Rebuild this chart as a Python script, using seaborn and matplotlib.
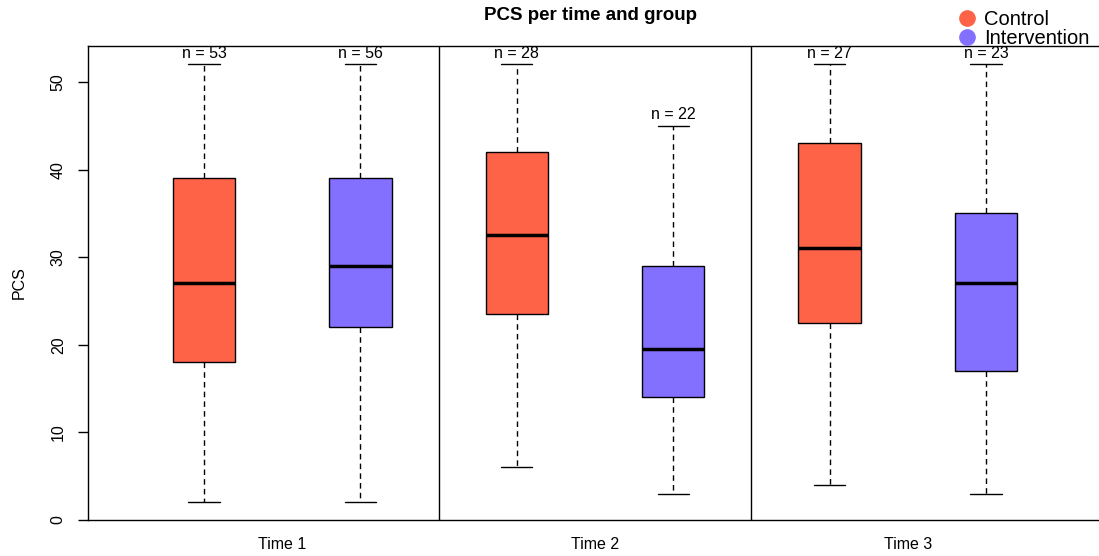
import numpy as np
import pandas as pd
import matplotlib
matplotlib.use("Agg")
import matplotlib.pyplot as plt
from matplotlib.lines import Line2D
import seaborn as sns

# ---- data ----
times = ["Time 1", "Time 2", "Time 3"]
groups = ["Control", "Intervention"]
# five-number summaries per (time, group): min, q1, median, q3, max
t1_control = [2, 18, 27, 39, 52]
t1_interv = [2, 22, 29, 39, 52]
t2_control = [6, 23.5, 32.5, 42, 52]
t2_interv = [3, 14, 19.5, 29, 45]
t3_control = [4, 22.5, 31, 43, 52]
t3_interv = [3, 17, 27, 35, 52]
n_counts = [53, 56, 28, 22, 27, 23]
colors = {"Control": "#FF6347", "Intervention": "#8470FF"}

summaries = [t1_control, t1_interv, t2_control, t2_interv, t3_control, t3_interv]
rows = []
labels = []
for i, s in enumerate(summaries):
    t = times[i // 2]
    g = groups[i % 2]
    lab = f"{t} {g}"
    labels.append(lab)
    for v in s:
        rows.append({"slot": lab, "group": g, "PCS": v})
df = pd.DataFrame(rows)

sns.set_theme(style="white")
plt.rcParams["font.family"] = ["Liberation Sans", "DejaVu Sans"]
plt.rcParams.update({"text.color": "black", "axes.labelcolor": "black",
                     "xtick.color": "black", "ytick.color": "black"})

fig = plt.figure(figsize=(10.99, 5.56), dpi=100)
ax = fig.add_axes([88 / 1099, 36 / 556, 1 - 88 / 1099, (520 - 46) / 556])

sns.boxplot(
    data=df, x="slot", y="PCS", hue="group", order=labels,
    palette=colors, saturation=1, dodge=False, width=0.40, whis=np.inf,
    linecolor="black", linewidth=1.0, ax=ax, legend=False,
    boxprops=dict(edgecolor="black", linewidth=1.0),
    whiskerprops=dict(linestyle=(0, (4, 3)), color="black", linewidth=1.0),
    capprops=dict(color="black", linewidth=1.0),
    medianprops=dict(color="black", linewidth=2.5),
)

# n labels
for i, s in enumerate(summaries):
    ax.text(i, s[4] + 0.4, f"n = {n_counts[i]}", ha="center", va="bottom",
            fontsize=11.5, color="black")

# separators
for xs in [1.5, 3.5]:
    ax.axvline(xs, color="black", linewidth=1.0)

ax.set_xlim(-0.742, (1099 - 204) / 156.4)
ax.set_ylim(0, (520 - 46) / 8.76)
ax.set_xticks([0.5, 2.5, 4.5])
ax.set_xticklabels(times, fontsize=11.5, color="black")
ax.tick_params(axis="x", length=0, pad=12)
ax.set_yticks([0, 10, 20, 30, 40, 50])
ax.set_yticklabels(["0", "10", "20", "30", "40", "50"], rotation=90,
                   va="center", fontsize=11.5, color="black")
ax.tick_params(axis="y", length=7, width=1.0, color="black", left=True, pad=9)
ax.set_xlabel("")
ax.set_ylabel("PCS", fontsize=11.5, labelpad=17, color="black")

for side in ["left", "bottom", "top"]:
    ax.spines[side].set_visible(True)
    ax.spines[side].set_color("black")
    ax.spines[side].set_linewidth(1.0)
ax.spines["right"].set_visible(False)

fig.text(591 / 1099, 1 - 15 / 556, "PCS per time and group", ha="center",
         va="center", fontsize=13.5, fontweight="bold", color="black")

handles = [Line2D([], [], marker="o", linestyle="none", markersize=11,
                  markerfacecolor=colors[g], markeredgecolor=colors[g]) for g in groups]
leg = fig.legend(handles, groups, loc="upper left",
                 bbox_to_anchor=(951 / 1099, 1 - 6 / 556),
                 frameon=False, fontsize=14.5, handletextpad=0.25, labelspacing=0.0,
                 borderaxespad=0.0, borderpad=0.2, handlelength=1.2)
for t in leg.get_texts():
    t.set_color("black")

fig.savefig("out.png", dpi=100)
